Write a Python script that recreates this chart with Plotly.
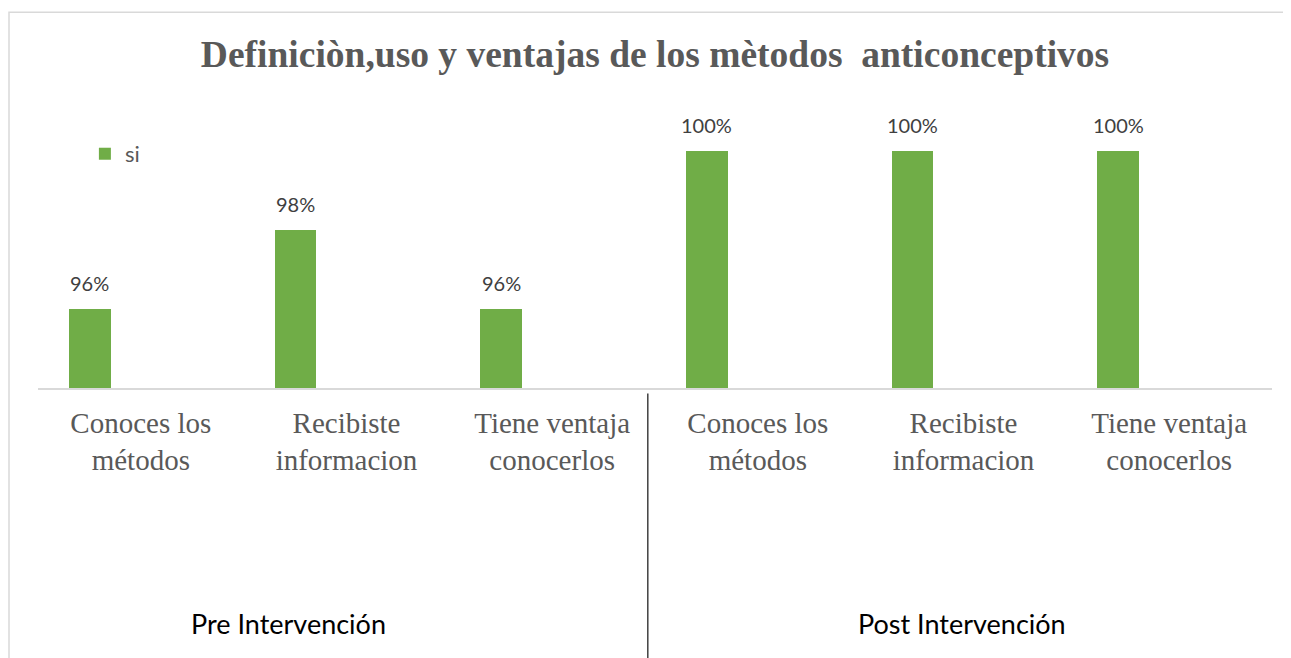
import plotly.graph_objects as go

# one series "si", six questions split in two intervention groups
QUESTIONS = ["Conoces los<br>métodos", "Recibiste<br>informacion", "Tiene ventaja<br>conocerlos",
             "Conoces los<br>métodos", "Recibiste<br>informacion", "Tiene ventaja<br>conocerlos"]
SI_VALUES = [0.96, 0.98, 0.96, 1.00, 1.00, 1.00]
GROUPS = ["Pre Intervención", "Post Intervención"]
TITLE = "Definiciòn,uso y ventajas de los mètodos\u00a0 anticonceptivos"

GREEN = "#70AD47"
GRAY_TXT = "#595959"
BAR_W = 0.204
BAR_OFF = -0.35

# page body has an 8px margin, so the figure is 8px smaller than the window
W, H = 1283, 650

xs = list(range(len(QUESTIONS)))

fig = go.Figure(go.Bar(
    x=xs, y=SI_VALUES, name="si",
    width=BAR_W, offset=BAR_OFF,
    marker=dict(color=GREEN, line=dict(width=0)),
    hovertemplate="%{y:.0%}<extra></extra>",
))

annotations = []
for x, v in zip(xs, SI_VALUES):
    annotations.append(dict(
        x=x + BAR_OFF + BAR_W / 2, y=v, xref="x", yref="y",
        text=f"{v:.0%}", showarrow=False, yanchor="middle", yshift=26,
        font=dict(family="Lato, sans-serif", size=20, color="#404040"),
    ))

# group labels under the category labels
for gx, g in zip([0.2026, 0.7488], GROUPS):
    annotations.append(dict(
        x=gx, y=-0.849, xref="paper", yref="paper", text=g, showarrow=False,
        xanchor="center", yanchor="middle",
        font=dict(family="Lato, sans-serif", size=27, color="#000000"),
    ))

shapes = [
    # divider between the two groups
    dict(type="line", xref="x", yref="paper", x0=2.465, x1=2.465, y0=-0.02, y1=-1.0,
         line=dict(color="#404040", width=1.5)),
    # chart border
    dict(type="rect", xref="paper", yref="paper", x0=-0.0235, x1=1.1, y0=1.3568, y1=-1.5,
         line=dict(color="#D9D9D9", width=1.5)),
]

fig.update_layout(
    width=W, height=H,
    margin=dict(l=30, r=19, t=103, b=270),
    paper_bgcolor="white", plot_bgcolor="white",
    title=dict(text=f"<b>{TITLE}</b>", x=647 / W, xanchor="center", xref="container",
               y=1 - 46 / H, yanchor="middle",
               font=dict(family="Liberation Serif, Times New Roman, serif", size=37.5, color=GRAY_TXT)),
    showlegend=True,
    legend=dict(x=0.038, y=0.845, xanchor="left", yanchor="middle", itemwidth=30,
                font=dict(family="Lato, sans-serif", size=22, color=GRAY_TXT),
                bgcolor="rgba(0,0,0,0)"),
    xaxis=dict(range=[-0.5, 5.5], tickvals=xs, ticktext=QUESTIONS, ticks="",
               showgrid=False, zeroline=False, showline=True, linecolor="#D9D9D9", linewidth=1.5,
               tickfont=dict(family="Liberation Serif, Times New Roman, serif", size=29, color=GRAY_TXT),
               ticklabelstandoff=8),
    yaxis=dict(range=[0.94, 1.01], visible=False, showgrid=False, zeroline=False),
    annotations=annotations,
    shapes=shapes,
    bargap=0,
)

fig.write_html("out.html")
